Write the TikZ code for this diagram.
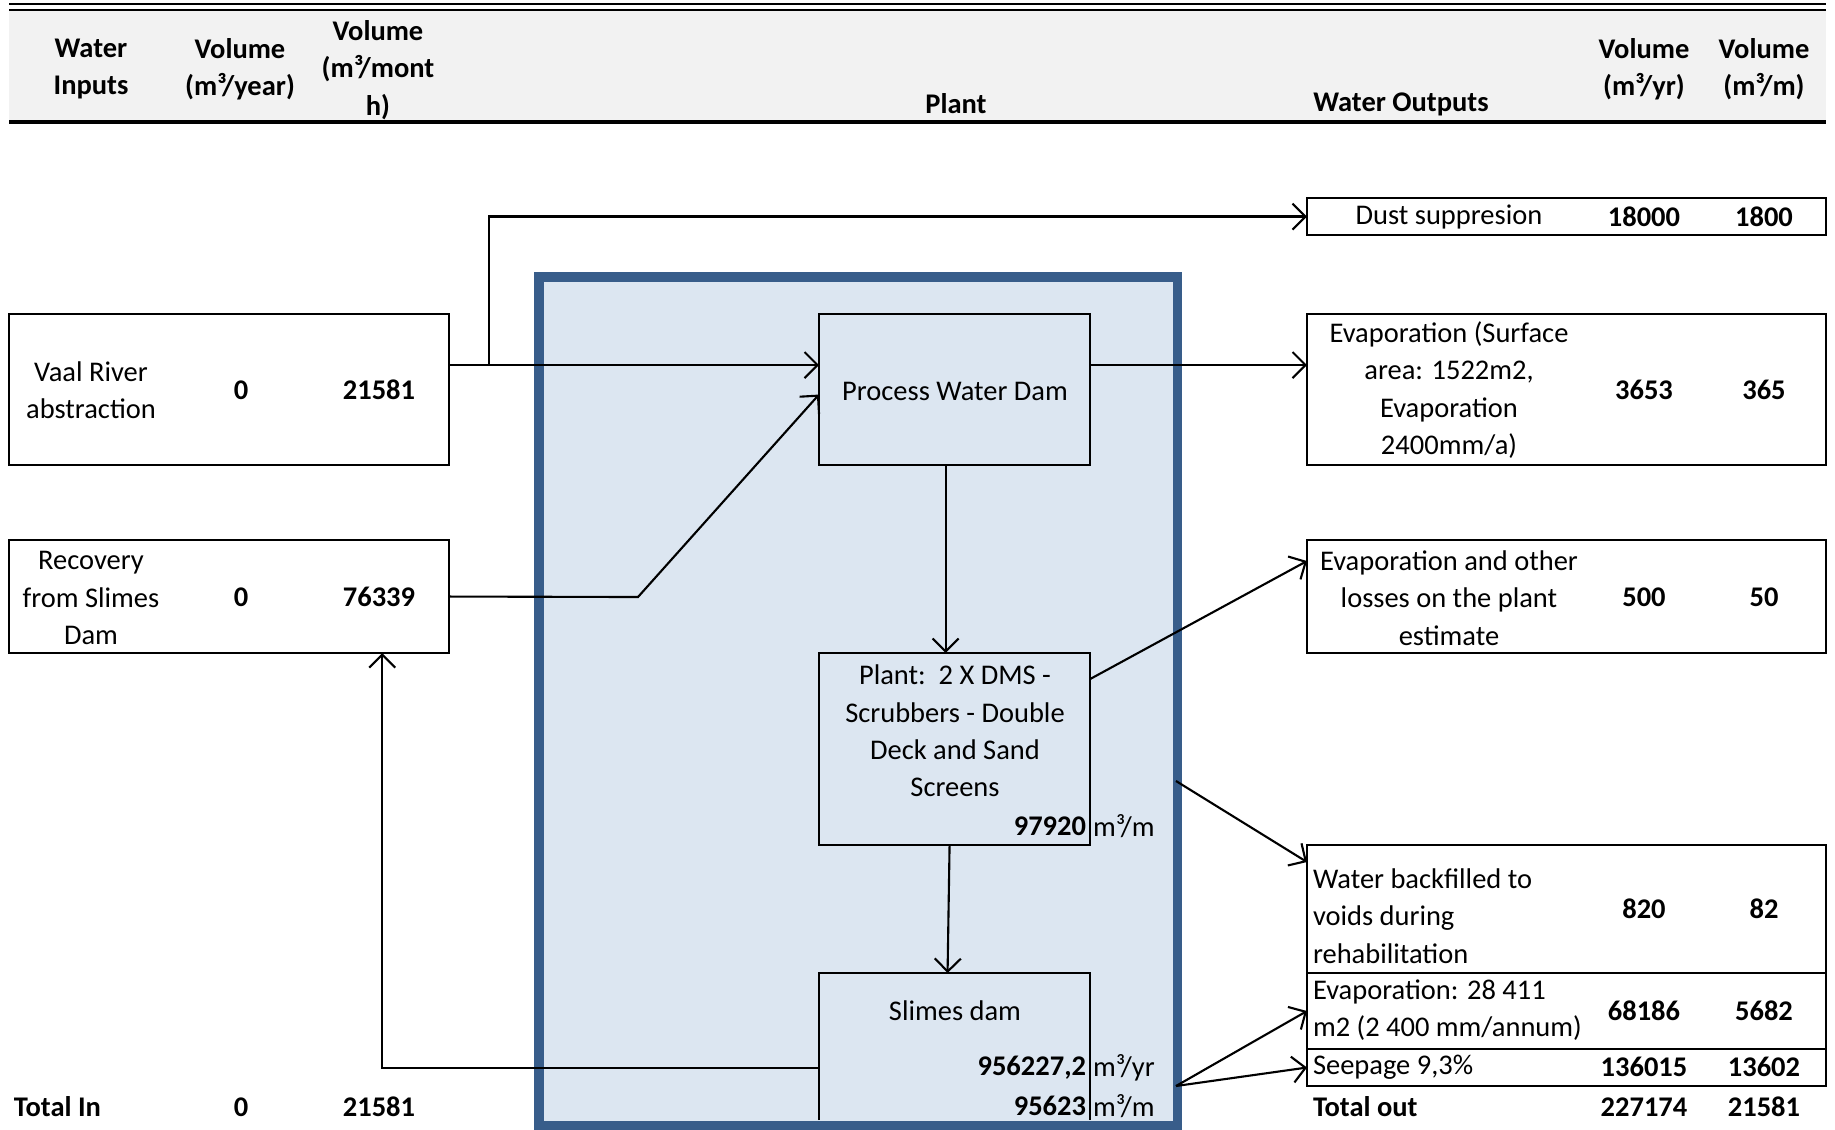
\documentclass[tikz,border=0pt]{standalone}
\usepackage{fontspec}
\setmainfont{Carlito}
\usetikzlibrary{arrows.meta}

\definecolor{hdrgray}{RGB}{242,242,242}
\definecolor{plantfill}{RGB}{220,230,241}
\definecolor{plantedge}{RGB}{56,93,138}

\begin{document}
\begin{tikzpicture}[x=0.01cm,y=-0.01cm,
    every node/.style={font=\fontsize{8.1}{10.6}\selectfont, inner sep=0pt, outer sep=0pt},
    box/.style={draw, line width=0.6pt, anchor=north west},
    txt/.style={align=center},
    num/.style={font=\fontsize{8.1}{10.6}\selectfont\bfseries},
    hdr/.style={align=center, font=\fontsize{8.1}{10.6}\selectfont\bfseries},
    flow/.style={line width=0.6pt, -{Straight Barb[length=1.3mm,width=2.6mm]}}]
\useasboundingbox (0,0) rectangle (1835,1129);

% header row
\fill[hdrgray] (9,10) rectangle (1826,122);
\draw[line width=0.8pt] (9,4) -- (1826,4);
\draw[line width=0.8pt] (9,10) -- (1826,10);
\draw[line width=0.9pt] (9,122) -- (1826,122);
\node[hdr] (h1) at (91,69) {Water\\Inputs};
\node[hdr] (h2) at (240,69) {Volume\\(m³/year)};
\node[hdr] (h3) at (378,70) {Volume\\(m³/mont\\h)};
\node[hdr] (h4) at (956,104) {Plant};
\node[hdr] (h5) at (1401,104) {Water Outputs};
\node[hdr] (h6) at (1644,69) {Volume\\(m³/yr)};
\node[hdr] (h7) at (1764,69) {Volume\\(m³/m)};

% plant area
\node[fill=plantfill, draw=plantedge, line width=2.6pt, anchor=north west,
      minimum width=6.38cm, minimum height=8.48cm] (plantarea) at (539,277) {};

% inputs
\node[box, minimum width=4.40cm, minimum height=1.51cm] (vaal) at (9,314) {};
\node[txt] (vaaltxt) at (91,390) {Vaal River\\abstraction};
\node[num] (vaalyr) at (241,390) {0};
\node[num] (vaalmo) at (379,390) {21581};

\node[box, minimum width=4.40cm, minimum height=1.13cm] (rec) at (9,540) {};
\node[txt] (rectxt) at (91,598) {Recovery\\from Slimes\\Dam};
\node[num] (recyr) at (241,597) {0};
\node[num] (recmo) at (379,597) {76339};

\node[num, anchor=west] (totin) at (14,1107) {Total In};
\node[num] (totinyr) at (241,1107) {0};
\node[num] (totinmo) at (379,1107) {21581};

% plant
\node[box, fill=plantfill, minimum width=2.71cm, minimum height=1.51cm] (pwd) at (819,314) {};
\node (pwdtxt) at (955,391) {Process Water Dam};

\node[box, fill=plantfill, minimum width=2.71cm, minimum height=1.92cm] (plant) at (819,653) {};
\node[txt] (planttxt) at (955,731) {Plant:\ \ 2 X DMS -\\Scrubbers - Double\\Deck and Sand\\Screens};
\node[num, anchor=east] (pmo) at (1086,826) {97920};
\node[anchor=west] (pmounit) at (1093,826) {m³/m};

\node[anchor=north west, minimum width=2.71cm, minimum height=1.47cm] (slimes) at (819,973) {};
\draw[line width=0.6pt] (slimes.south west) -- (slimes.north west) -- (slimes.north east) -- (slimes.south east);
\node (slimestxt) at (955,1011) {Slimes dam};
\node[num, anchor=east] (syr) at (1086,1068) {956227,2};
\node[anchor=west] (syrunit) at (1093,1068) {m³/yr};
\node[num, anchor=east] (smo) at (1086,1106) {95623};
\node[anchor=west] (smounit) at (1093,1106) {m³/m};

% outputs
\node[box, minimum width=5.19cm, minimum height=0.37cm] (dust) at (1307,198) {};
\node (dusttxt) at (1449,217) {Dust suppresion};

\node[box, minimum width=5.19cm, minimum height=1.51cm] (evap) at (1307,314) {};
\node[txt] (evaptxt) at (1449,390) {Evaporation (Surface\\area: 1522m2,\\Evaporation\\2400mm/a)};

\node[box, minimum width=5.19cm, minimum height=1.13cm] (evapother) at (1307,540) {};
\node[txt] (evapothertxt) at (1449,598) {Evaporation and other\\losses on the plant\\estimate};

\node[box, minimum width=5.19cm, minimum height=1.28cm] (backfill) at (1307,845) {};
\node[align=left, anchor=west] (backfilltxt) at (1313,916) {Water backfilled to\\voids during\\rehabilitation};

\node[box, minimum width=5.19cm, minimum height=0.76cm] (evapslime) at (1307,973) {};
\node[align=left, anchor=west] (evapslimetxt) at (1313,1010) {Evaporation: 28 411\\m2 (2 400 mm/annum)};

\node[box, minimum width=5.19cm, minimum height=0.37cm] (seep) at (1307,1049) {};
\node[anchor=west] (seeptxt) at (1313,1067) {Seepage 9,3\%};

\node[num, anchor=west] (totout) at (1313,1107) {Total out};

\foreach \yy/\va/\vb in {217/18000/1800, 390/3653/365, 597/500/50, 909/820/82,
                         1011/68186/5682, 1067/136015/13602, 1107/227174/21581}
  {\node[num] (outyr\yy) at (1644,\yy) {\va};
   \node[num] (outmo\yy) at (1764,\yy) {\vb};}

% flows
\coordinate (split) at (489,365);
\coordinate (kink) at (638,597);
\coordinate (bfout) at (1176,781);
\coordinate (seepout) at (1176,1086);

\draw[line width=0.6pt] (vaal.east |- split) -- (split);
\draw[flow] (split) -- (pwd.west |- split);
\draw[flow] (split) |- (dust.west);
\draw[flow] (rec.east) -- (kink) -- ([yshift=-0.05cm]pwd.west);
\draw[flow] (pwd.east |- split) -- (evap.west |- split);
\draw[flow] ([xshift=-0.09cm]pwd.south) -- ([xshift=-0.09cm]plant.north);
\draw[flow] ([yshift=-0.26cm]plant.north east) -- ([yshift=-0.21cm]evapother.north west);
\draw[flow] (bfout) -- ([yshift=-0.17cm]backfill.north west);
\draw[flow] ([xshift=-0.05cm]plant.south) -- ([xshift=-0.07cm]slimes.north);
\draw[flow] (slimes.west |- syr) -| ([xshift=1.53cm]rec.south);
\draw[flow] (seepout) -- (evapslime.west);
\draw[flow] (seepout) -- (seep.west);
\end{tikzpicture}
\end{document}
